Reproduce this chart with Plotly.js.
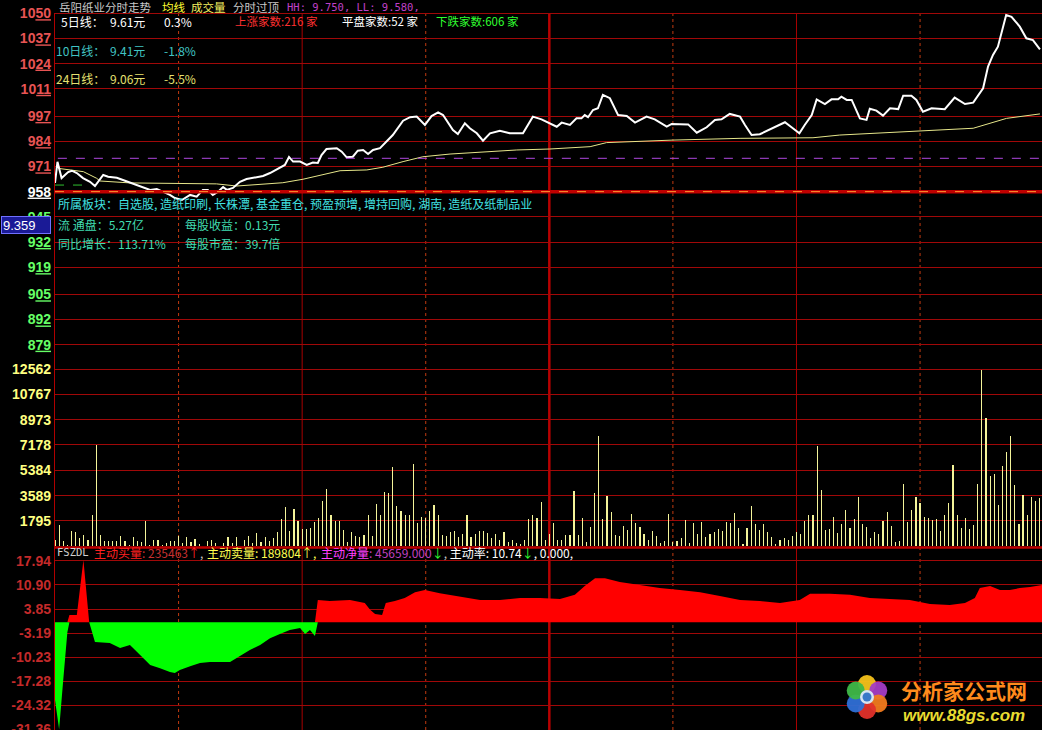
<!DOCTYPE html>
<html><head><meta charset="utf-8">
<script src="https://cdn.plot.ly/plotly-3.0.1.min.js"></script>
<style>html,body{margin:0;padding:0;background:#000;overflow:hidden}#chart{width:1042px;height:730px}</style>
</head><body><div id="chart"></div>
<script>
// ---------- data ----------
const priceTime = [0,0.6,1.6,3.2,4.1,5.3,6.8,8.5,9.7,10.9,11.7,12.9,15,16.5,18.9,21,23.1,24.7,26.2,27.9,29.1,30.8,32.8,34.4,35.9,37.1,38.3,39.6,40.8,41.7,43.2,44.9,46.5,49,50.5,52.2,54.6,55.8,56.8,57.8,59.5,61.1,62.6,63.8,64.7,65.9,68.4,69.6,70.8,72.3,73.5,74.8,76,77.2,78.9,80.8,82,84.5,86.2,87.8,89.8,91.4,93,94.2,95.4,96.6,97.8,99.5,100.7,102.4,103.9,105.6,108,110.4,113.6,116,118.1,120.1,121.8,123,125,126.6,127.8,128.6,129.4,130.6,131.8,133,134.7,136.7,138.8,140.8,143.6,145.6,148.5,149.7,153.7,155.8,158.2,160.2,161.8,163.8,166.3,167.5,169.1,171.1,173.5,177.2,178.8,180.7,182,183.7,184.9,186.9,188.5,190.1,190.9,192.2,193.4,195.4,197,197.8,199.4,201,202.7,204.7,205.9,207.9,209.1,210.7,212.8,216,218.4,220.9,222.9,225.3,226.5,227.7,228.9,230.9,232.2,234.2,235.8,237.4,239.1];
const priceValue = [962.5,973.4,965.0,968.1,968.8,967.6,965.0,963.1,960.9,964.0,966.6,965.7,965.2,964.0,962.0,960.6,958.9,959.4,958.0,956.3,954.7,953.7,956.3,955.4,958.9,958.9,956.3,958.0,960.4,958.9,959.9,963.1,964.5,965.7,966.1,967.6,970.7,971.8,975.9,973.5,973.5,971.8,973.0,972.8,976.9,980.0,980.4,978.6,975.7,976.0,979.1,979.5,977.4,979.5,980.4,984.3,987.2,994.6,996.4,996.7,992.4,997.0,998.9,997.5,993.3,989.8,987.7,993.3,990.7,988.1,984.3,988.1,989.4,988.1,988.1,996.7,995.3,993.3,991.5,993.6,992.4,995.8,995.8,997.5,996.4,1000.1,1001.0,1007.9,1006.2,997.5,997.0,993.6,996.7,995.3,991.5,992.9,992.7,988.4,991.2,995.0,995.3,998.1,996.7,992.4,987.2,987.6,990.2,993.8,991.2,988.1,992.4,997.5,1005.6,1003.2,1005.6,1005.6,1007.0,1005.3,1005.3,995.8,995.0,1000.8,999.8,997.2,1001.0,1000.6,1007.5,1007.5,1005.3,999.2,1001.0,1000.5,1006.5,1003.2,1003.9,1011.3,1022.5,1028.5,1032.8,1049.1,1048.2,1043.1,1037.1,1036.2,1031.4];
const avgTime = [0.8,6.9,10.1,10.9,18.2,27.9,39.2,44.1,55.3,60.2,65,69.2,75.7,79.6,84.5,89.3,95.9,103.9,112.1,120.1,129.9,133.9,150,166.3,184,190.5,206.7,222.9,231,239.1];
const avgValue = [970.0,968.3,964.9,963.5,962.5,962.2,962.0,960.9,962.6,964.4,966.6,968.8,969.2,970.6,973.5,976.0,977.4,978.6,979.5,980.0,981.2,983.3,984.6,985.5,985.8,987.2,988.9,990.7,995.8,998.1];
const volume = [425,1534,354,118,1109,991,590,826,472,2195,
7198,826,354,401,354,401,708,354,118,637,
354,307,1770,118,425,425,118,236,401,354,
708,236,637,307,543,165,40,401,425,236,
40,236,637,236,637,40,425,708,236,920,
283,637,354,590,991,1935,2761,1062,2620,1770,
1227,1227,1298,1699,2006,3186,4036,2195,1770,1770,
1133,283,991,708,661,779,2195,708,3021,2242,
3823,3752,5640,2832,2478,2242,2195,5806,1628,2053,
2006,2478,2903,2195,779,732,991,1062,661,873,
2195,661,873,1109,1109,920,590,873,425,991,
283,425,236,165,425,1959,2195,2006,3115,472,
873,
1652,425,472,779,779,3894,779,1982,283,1345,
3752,7788,1912,3540,2407,779,708,1416,1133,2266,
1628,1345,850,425,1062,708,212,354,2266,283,
354,566,1841,212,1628,850,1699,637,850,991,
1204,1062,1699,1628,2336,1274,142,1274,2832,1558,
1133,1558,991,637,142,425,566,472,708,991,
850,1770,2195,2195,7080,3965,1133,1204,2053,920,
1558,2549,1274,1912,3469,1558,1345,566,991,850,
1770,2407,1416,283,354,4390,1699,2549,3469,3044,
2053,1982,1841,1912,1062,2195,3044,5735,2195,1274,
1982,1204,1487,4390,12461,9062,4956,5098,2903,5664,
6655,7788,4319,1558,3611,2195,3469,3186,3422];
const fsTime = [0,1,2,3,3.5,5.3,6.9,8.3,9.7,13.3,15.8,18.2,20.6,23.1,25.5,27.9,29.1,30.3,32.8,35.2,37.6,40,42.5,44.9,47.3,49.8,52.2,54.6,57,59.5,60.7,61.9,63.1,63.8,66.7,71.6,75.2,76.5,77.7,79.4,80.3,82.5,84.9,87.4,89.8,93.4,98.3,103.2,108,112.9,117.7,122.6,126.2,128.6,131.1,133.5,137.1,142,146.8,151.7,156.6,161.4,166.3,171.1,176,180.8,183.3,188.1,193,197.8,202.7,207.5,212.4,217.2,220.9,223.3,224.5,227,229.4,231.8,234.2,236.7,239.6];
const fsValue = [-22.8,-31.4,-17,-3,2.1,2.1,18.2,0,-5.8,-6.1,-7.6,-6.7,-9.6,-12.6,-13.5,-14.6,-14.9,-14.0,-12.9,-12.0,-11.7,-11.7,-11.7,-9.9,-8.2,-6.7,-4.7,-3.5,-2.3,-1.7,-3.5,-2.3,-4.1,6.5,6.2,6.5,5.6,3.6,2.4,2.1,5.6,6.2,7.1,8.8,9.4,8.5,7.4,6.5,6.5,7.1,7.1,6.8,8.0,10.6,12.9,12.9,11.8,10.9,10.0,9.4,8.8,7.7,6.5,6.2,5.6,6.5,8.3,8.3,8.0,7.1,6.8,6.5,5.3,5.0,5.6,7.1,10.0,10.6,9.4,9.4,10.0,10.3,10.9];
const priceTicks = [1050,1037,1024,1011,997,984,971,958,945,932,919,905,892,879];
const volumeTicks = [12562,10767,8973,7178,5384,3589,1795];
const fsTicks = [17.94,10.90,3.85,-3.19,-10.23,-17.28,-24.32,-31.36];
const prevClose = 958;
const purpleLevel = 975.2;
const greenLevel = 961.4;
const gridTimes = [30,60,90,120,150,180,210];

// ---------- layout helpers (pixel -> paper) ----------
const W=1042,H=730,L=55;
const px = x => (x-L)/(W-L);
const py = y => 1-y/H;
const CJK = 'Noto Sans CJK SC, sans-serif';

function priceLabel(v){
  const s=String(v);
  const c = v>prevClose ? '#e85454' : (v===prevClose ? '#ffffff' : '#66ff66');
  const head = v===prevClose ? '' : s.slice(0,s.length-2);
  const tail = v===prevClose ? s : s.slice(-2);
  return '<span style="color:'+c+'">'+head+'<u>'+tail+'</u></span>';
}

const traces = [
  {x:avgTime,y:avgValue,type:'scatter',mode:'lines',line:{color:'#e6e68a',width:1},xaxis:'x',yaxis:'y',hoverinfo:'skip'},
  {x:priceTime,y:priceValue,type:'scatter',mode:'lines',line:{color:'#ffffff',width:2},xaxis:'x',yaxis:'y',hoverinfo:'skip'},
  {x:volume.map((_,i)=>i),y:volume,type:'bar',width:0.28,marker:{color:'#f4f49a',line:{width:0}},xaxis:'x',yaxis:'y2',hoverinfo:'skip'},
  {x:fsTime,y:fsValue.map(v=>Math.max(v,0)),type:'scatter',mode:'lines',fill:'tozeroy',fillcolor:'#ff0000',line:{color:'#ff0000',width:0},xaxis:'x',yaxis:'y3',hoverinfo:'skip'},
  {x:fsTime,y:fsValue.map(v=>Math.min(v,0)),type:'scatter',mode:'lines',fill:'tozeroy',fillcolor:'#00ff00',line:{color:'#00ff00',width:0},xaxis:'x',yaxis:'y3',hoverinfo:'skip'}
];

const tickFont = {family:'Liberation Sans, Arial, sans-serif',size:14,weight:'bold'};
const gridC = '#a00808';
const yBase = {showgrid:true,gridcolor:gridC,gridwidth:1,zeroline:false,showline:false,ticks:'',tickmode:'array',fixedrange:true,ticklabeloverflow:'allow',ticklabelstandoff:3,anchor:'x'};

const shapes = [];
gridTimes.forEach(t=>{
  let st;
  if(t===120) st={color:'#b80000',width:2.5,dash:'solid'};
  else if(t===60||t===180) st={color:'#a80000',width:1,dash:'solid'};
  else st={color:'#c03a10',width:1,dash:'dot'};
  shapes.push({type:'line',xref:'x',yref:'paper',x0:t,x1:t,y0:0,y1:py(13),line:st,layer:'below'});
});
shapes.push({type:'line',xref:'paper',yref:'paper',x0:px(54.5),x1:px(54.5),y0:0,y1:py(13),line:{color:'#b00000',width:1}});
shapes.push({type:'line',xref:'paper',yref:'y',x0:0,x1:1,y0:prevClose,y1:prevClose,line:{color:'#c00000',width:3.5}});
shapes.push({type:'line',xref:'paper',yref:'y',x0:0,x1:1,y0:prevClose,y1:prevClose,line:{color:'#ff9a30',width:1,dash:'dash'}});
shapes.push({type:'line',xref:'x',yref:'y',x0:0.7,x1:240,y0:purpleLevel,y1:purpleLevel,line:{color:'#b048e0',width:1,dash:'dash'}});
shapes.push({type:'line',xref:'x',yref:'y',x0:0,x1:7.3,y0:greenLevel,y1:greenLevel,line:{color:'#30c030',width:1,dash:'dash'}});
shapes.push({type:'line',xref:'paper',yref:'paper',x0:0,x1:1,y0:py(547.5),y1:py(547.5),line:{color:'#c00000',width:2.5}});

// logo flower
const fc=[867,697];
const petals=[['#f5c21a',-90],['#a43cc4',-30],['#f07a1e',30],['#e0302a',90],['#2f6fd6',150],['#3fb848',210]];
petals.forEach(([c,a])=>{
  const r=a*Math.PI/180, cx=fc[0]+13*Math.cos(r), cy=fc[1]+13*Math.sin(r);
  shapes.push({type:'circle',xref:'paper',yref:'paper',x0:px(cx-9),x1:px(cx+9),y0:py(cy+9),y1:py(cy-9),fillcolor:c,line:{width:0},opacity:0.95});
});
shapes.push({type:'circle',xref:'paper',yref:'paper',x0:px(fc[0]-7),x1:px(fc[0]+7),y0:py(fc[1]+7),y1:py(fc[1]-7),fillcolor:'#d8e4f0',line:{width:0}});
shapes.push({type:'circle',xref:'paper',yref:'paper',x0:px(fc[0]-4.5),x1:px(fc[0]+4.5),y0:py(fc[1]+4.5),y1:py(fc[1]-4.5),fillcolor:'#3a78c8',line:{width:0}});

const ann = [];
function T(text,x,y,color,size,extra){
  ann.push(Object.assign({text:text,xref:'paper',yref:'paper',x:px(x),y:py(y),xanchor:'left',yanchor:'middle',showarrow:false,
    font:{family:CJK,size:size||12,color:color}},extra||{}));
}
// header row
T('岳阳纸业分时走势',57,7,'#c8c8c8',11.5);
T('均线',160,7,'#ffff30',11.5);
T('成交量',189,7,'#f4f060',11.5);
T('分时过顶',231,7,'#c8c8c8',11.5);
T('HH: 9.750, LL: 9.580,',285,7,'#c040c8',11,{font:{family:'DejaVu Sans Mono, monospace',size:10.5,color:'#c040c8'}});
// ma rows
T('5日线：',59,22,'#ffffff');
T('9.61元',108,22,'#ffffff');
T('0.3%',162,22,'#ffffff');
T('上涨家数:216 家',233,21.5,'#ff3030',11.5);
T('平盘家数:52 家',340,21.5,'#ffffff',11.5);
T('下跌家数:606 家',434,21.5,'#30ff30',11.5);
T('10日线：',54,51,'#40c4c4');
T('9.41元',108,51,'#40c4c4');
T('-1.8%',162,51,'#40c4c4');
T('24日线：',54,78,'#e6e070');
T('9.06元',108,78,'#e6e070');
T('-5.5%',162,78,'#e6e070');
// info
T('所属板块：自选股, 造纸印刷, 长株潭, 基金重仓, 预盈预增, 增持回购, 湖南, 造纸及纸制品业',56,203,'#40e0e0');
T('流 通盘：5.27亿',56,224,'#40dcb0');
T('每股收益：0.13元',183,224,'#40dcb0');
T('同比增长：113.71%',56,243,'#40dcb0');
T('每股市盈：39.7倍',183,243,'#40dcb0');
// bottom header
T('FSZDL',55,552,'#d0d0d0',11,{font:{family:'DejaVu Sans Mono, monospace',size:10.5,color:'#d0d0d0'}});
T('主动买量',92,552,'#ff2020');
T(': 235463<span style="color:#ff2020">↑</span><span style="color:#c8c8c8">,</span>',140,552,'#c83030');
T('主动卖量: 189804↑,',205,552,'#ffff50');
T('主动净量',319,552,'#ff40ff');
T(': 45659.000<span style="color:#30ff30">↓</span><span style="color:#c8c8c8">,</span> <span style="color:#ffffff">主动率: 10.74</span><span style="color:#30ff30">↓</span><span style="color:#ffffff">, 0.000,</span>',367,552,'#c040c0');
// cursor box
ann.push({text:'9.359',xref:'paper',yref:'paper',x:px(1),y:py(225),xanchor:'left',yanchor:'middle',showarrow:false,align:'left',
  width:46,height:14,bgcolor:'#1a1a96',bordercolor:'#7070ff',borderwidth:1,borderpad:1,
  font:{family:'Liberation Sans, Arial, sans-serif',size:13,color:'#ffffff'}});
// logo text
T('<b>分析家公式网</b>',899,690,'#ff8a1c',21);
T('<b><i>www.88gs.com</i></b>',901,715,'#e8dc30',17,{font:{family:'Liberation Sans, Arial, sans-serif',size:17,color:'#e8dc30'}});

const layout = {
  width:W,height:H,margin:{l:L,r:0,t:0,b:0,pad:0},
  paper_bgcolor:'#000000',plot_bgcolor:'#000000',showlegend:false,hovermode:false,bargap:0,
  xaxis:{range:[0,239.6],showgrid:false,zeroline:false,showticklabels:false,ticks:'',showline:false,fixedrange:true,anchor:'y3'},
  yaxis:Object.assign({},yBase,{domain:[py(356),1],range:[873.22,1056.86],tickvals:priceTicks,ticktext:priceTicks.map(priceLabel),tickfont:tickFont}),
  yaxis2:Object.assign({},yBase,{domain:[py(546.3),py(356)],range:[0,13483],tickvals:volumeTicks,ticktext:volumeTicks.map(String),tickfont:Object.assign({},tickFont,{color:'#ffff80'})}),
  yaxis3:Object.assign({},yBase,{domain:[0,py(548)],range:[-31.63,21.74],tickvals:fsTicks,ticktext:fsTicks.map(v=>v.toFixed(2)),tickfont:Object.assign({},tickFont,{color:'#c42a2a'})}),
  shapes:shapes,annotations:ann
};
Plotly.newPlot('chart',traces,layout,{staticPlot:true,displayModeBar:false});
</script></body></html>
